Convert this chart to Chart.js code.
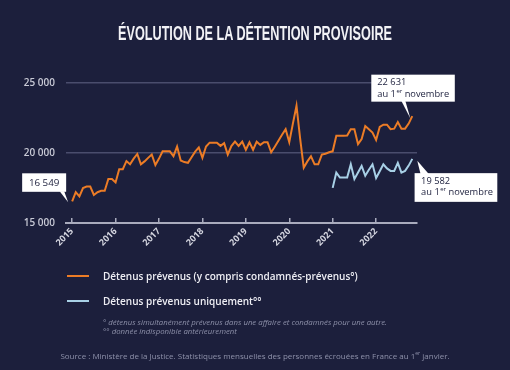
<!DOCTYPE html>
<html><head><meta charset="utf-8">
<script src="https://cdn.jsdelivr.net/npm/chart.js@4"></script>
<style>
html,body{margin:0;padding:0;background:#1c1f3c;}
#wrap{position:relative;width:510px;height:370px;overflow:hidden;background:#1c1f3c;}
canvas{position:absolute;left:0;top:0;}
.t{position:absolute;white-space:nowrap;}
#title{left:255px;top:21px;color:#f2f2f6;font-family:'Liberation Sans',Arial,sans-serif;font-weight:bold;font-size:21px;line-height:24px;transform-origin:0 0;}
.lg{left:103px;color:#eeeef4;font-family:'Open Sans',sans-serif;font-weight:600;font-size:10px;line-height:14px;}
.sw{position:absolute;left:67px;width:22px;height:2px;}
.fn{left:103px;color:#8e91aa;font-family:'Open Sans',sans-serif;font-style:italic;font-size:7.8px;line-height:9px;}
#src{left:0;width:510px;text-align:center;top:351px;color:#8e91aa;font-family:'Open Sans',sans-serif;font-size:8px;line-height:10px;}
sup{font-size:0.65em;line-height:0;}
</style></head>
<body>
<div id="wrap">
<canvas id="c" width="510" height="370"></canvas>
<div class="t" id="title">ÉVOLUTION DE LA DÉTENTION PROVISOIRE</div>
<div class="sw" style="top:274.5px;background:#ec7c26"></div>
<div class="t lg" style="top:268.5px">Détenus prévenus (y compris condamnés-prévenus°)</div>
<div class="sw" style="top:300px;background:#a8d0e6"></div>
<div class="t lg" style="top:294px">Détenus prévenus uniquement°°</div>
<div class="t fn" style="top:318px">° détenus simultanément prévenus dans une affaire et condamnés pour une autre.</div>
<div class="t fn" style="top:327px">°° donnée indisponible antérieurement</div>
<div class="t" id="src">Source : Ministère de la Justice. Statistiques mensuelles des personnes écrouées en France au 1<sup>er</sup> janvier.</div>
</div>
<script>
// Year tick labels (one tick every 12 months, starting January 2015)
const yearLabels = ['2015','2016','2017','2018','2019','2020','2021','2022'];
const yTicks = [15000, 20000, 25000];

// Monthly values, January 2015 -> November 2022
const prevenusTotal = [
  16549,17200,16900,17500,17600,17600,17000,17200,17300,17300,18140,18140,
  17900,18840,18840,19420,19190,19600,19930,19190,19400,19650,19890,19140,
  19600,20120,20120,20120,19770,20460,19470,19350,19300,19700,20100,20400,
  19650,20460,20740,20740,20740,20510,20700,19890,20500,20810,20510,20810,
  20230,20770,20230,20810,20580,20770,20770,20050,20450,20870,21300,21700,
  20770,22100,23380,21050,18950,19400,19770,19190,19190,19890,19950,20050,
  20120,21230,21230,21230,21250,21700,21700,20630,21000,21930,21700,21460,
  20930,21860,22020,22020,21700,21740,22210,21740,21740,22100,22631
];
// Monthly values, January 2021 -> November 2022 (not available before)
const prevenusSeulsStart = 72;
const prevenusSeuls = [
  17510,18600,18250,18250,18250,19190,18140,18600,19070,18370,18800,19190,
  18210,18700,19190,18900,18720,18720,19300,18600,18720,19100,19582
];

const fmt = v => String(v).replace(/\B(?=(\d{3})+(?!\d))/g, ' ');

const BG = '#1c1f3c';
const ORANGE = '#ec7c26';
const BLUE = '#a8d0e6';

// condense the title to the reference width
(function(){
  const t = document.getElementById('title');
  const w = t.getBoundingClientRect().width;
  const target = 274;
  t.style.transform = 'scaleX(' + (target / w) + ')';
  t.style.left = (255 - target / 2) + 'px';
})();

const calloutPlugin = {
  id: 'callouts',
  afterDatasetsDraw(chart) {
    const ctx = chart.ctx;
    const m0 = chart.getDatasetMeta(0).data;
    const m1 = chart.getDatasetMeta(1).data;
    const pFirst = m0[0], pLast = m0[m0.length-1], bLast = m1[m1.length-1];
    const font = '500 9.3px "Open Sans", sans-serif';
    const supFont = '500 6px "Open Sans", sans-serif';
    function drawLine2(x, y) {
      ctx.font = font; ctx.textBaseline = 'middle'; ctx.textAlign = 'left';
      const a = 'au 1';
      ctx.fillText(a, x, y);
      let w = ctx.measureText(a).width;
      ctx.font = supFont;
      ctx.fillText('er', x + w + 0.5, y - 3);
      const w2 = ctx.measureText('er').width;
      ctx.font = font;
      ctx.fillText(' novembre', x + w + w2 + 0.5, y);
    }
    function box(bx, by, bw, bh, tail) {
      ctx.fillStyle = '#ffffff';
      ctx.fillRect(bx, by, bw, bh);
      ctx.beginPath();
      ctx.moveTo(tail[0][0], tail[0][1]);
      ctx.lineTo(tail[1][0], tail[1][1]);
      ctx.lineTo(tail[2][0], tail[2][1]);
      ctx.closePath();
      ctx.fill();
    }
    ctx.save();
    {
      const tx = pFirst.x - 4, ty = pFirst.y + 1;
      const bx = tx - 46, by = ty - 29;
      box(bx, by, 44, 18.5, [[tx-8.5, by+18], [tx-4, by+18], [tx, ty]]);
      ctx.fillStyle = BG; ctx.font = '500 9.8px "Open Sans", sans-serif'; ctx.textAlign = 'center'; ctx.textBaseline = 'middle';
      ctx.fillText(fmt(prevenusTotal[0]), bx + 22, by + 9.5);
    }
    {
      const tx = pLast.x - 2, ty = pLast.y + 2;
      const bx = tx - 39, by = ty - 43.5;
      box(bx, by, 83.5, 27, [[tx-9, by+26], [tx-5, by+26], [tx, ty]]);
      ctx.fillStyle = BG; ctx.font = font; ctx.textAlign = 'left'; ctx.textBaseline = 'middle';
      ctx.fillText(fmt(prevenusTotal[prevenusTotal.length-1]), bx + 6, by + 7.5);
      drawLine2(bx + 6, by + 20);
    }
    {
      const tx = bLast.x + 5, ty = bLast.y + 2;
      const bx = tx - 2.7, by = ty + 12.3;
      box(bx, by, 82.7, 28.7, [[tx+3.3, by+1], [tx+11.7, by+1], [tx, ty]]);
      ctx.fillStyle = BG; ctx.font = font; ctx.textAlign = 'left'; ctx.textBaseline = 'middle';
      ctx.fillText(fmt(prevenusSeuls[prevenusSeuls.length-1]), bx + 6.5, by + 8);
      drawLine2(bx + 6.5, by + 19.5);
    }
    ctx.restore();
  }
};

new Chart(document.getElementById('c'), {
  type: 'line',
  data: {
    datasets: [
      {
        label: 'Détenus prévenus (y compris condamnés-prévenus°)',
        data: prevenusTotal.map((v, i) => ({x: i, y: v})),
        borderColor: ORANGE, borderWidth: 2, pointRadius: 0, tension: 0, fill: false
      },
      {
        label: 'Détenus prévenus uniquement°°',
        data: prevenusSeuls.map((v, i) => ({x: prevenusSeulsStart + i, y: v})),
        borderColor: BLUE, borderWidth: 2, pointRadius: 0, tension: 0, fill: false
      }
    ]
  },
  options: {
    responsive: false,
    animation: false,
    devicePixelRatio: 1,
    layout: {padding: {top: 83, right: 93, bottom: 117, left: 0}},
    plugins: {legend: {display: false}, tooltip: {enabled: false}, title: {display: false}},
    scales: {
      x: {
        type: 'linear', min: -1.7, max: 95.3,
        afterBuildTicks: s => { s.ticks = yearLabels.map((l, k) => ({value: k * 12})); },
        afterFit: s => { s.height = 30; },
        ticks: {
          autoSkip: false, maxRotation: 45, minRotation: 45, padding: 8,
          color: '#d4d5df', font: {family: '"Open Sans", sans-serif', size: 9, weight: '700'},
          callback: v => yearLabels[Math.round(v / 12)]
        },
        grid: {drawOnChartArea: false, drawTicks: true, tickLength: -5, color: '#a9abbd', lineWidth: 1.5},
        border: {display: true, color: '#a9abbd', width: 2}
      },
      y: {
        min: 15000, max: 25000,
        afterBuildTicks: s => { s.ticks = yTicks.map(v => ({value: v})); },
        afterFit: s => { s.width = 66; },
        ticks: {
          padding: 11, color: '#c9cad6',
          font: {family: '"Open Sans", sans-serif', size: 10, weight: '600'},
          callback: v => fmt(v)
        },
        grid: {color: '#4a4d6d', lineWidth: 1.5, drawTicks: false},
        border: {display: false}
      }
    }
  },
  plugins: [calloutPlugin]
});
</script>
</body></html>
